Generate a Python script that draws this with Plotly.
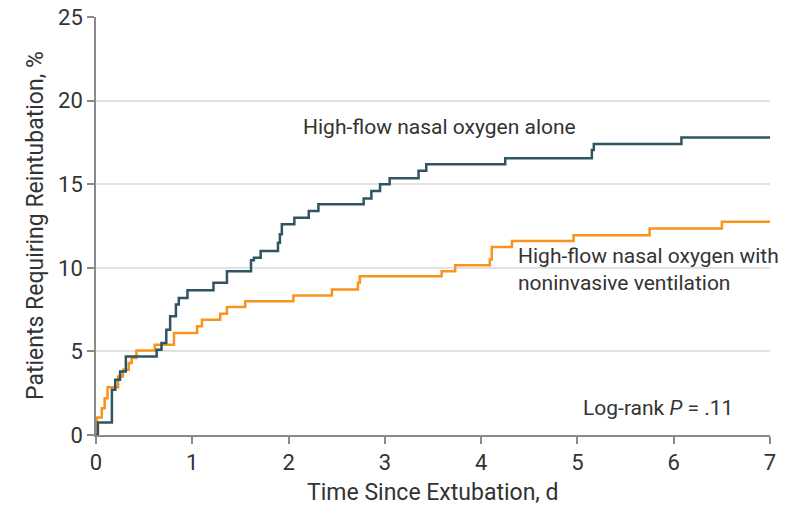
import plotly.graph_objects as go

# Kaplan-Meier style cumulative incidence (step data)
hfno_t = [0, 0.02, 0.165, 0.20, 0.25, 0.31, 0.63, 0.68, 0.73, 0.77, 0.83, 0.86, 0.95,
          1.22, 1.36, 1.61, 1.64, 1.71, 1.89, 1.91, 1.93, 2.06, 2.21, 2.31, 2.78, 2.86,
          2.95, 3.05, 3.35, 3.43, 4.25, 5.15, 5.17, 6.08, 7.0]
hfno_y = [0, 0.75, 2.7, 3.3, 3.8, 4.7, 5.1, 5.5, 6.3, 7.1, 7.8, 8.2, 8.65,
          9.1, 9.8, 10.45, 10.6, 11.0, 11.5, 12.0, 12.6, 13.0, 13.4, 13.8, 14.15, 14.6,
          15.0, 15.35, 15.8, 16.2, 16.55, 17.05, 17.4, 17.8, 17.8]

niv_t = [0, 0.01, 0.06, 0.09, 0.12, 0.23, 0.28, 0.34, 0.37, 0.42, 0.61, 0.81, 1.05,
         1.10, 1.29, 1.36, 1.55, 2.05, 2.45, 2.72, 2.74, 3.59, 3.73, 4.09, 4.11, 4.32,
         4.96, 5.75, 6.5, 7.0]
niv_y = [0, 1.05, 1.6, 2.2, 2.85, 3.5, 3.9, 4.3, 4.6, 5.05, 5.4, 6.1, 6.5,
         6.9, 7.25, 7.65, 8.0, 8.35, 8.7, 9.1, 9.5, 9.8, 10.15, 10.5, 11.25, 11.6,
         11.95, 12.35, 12.75, 12.75]

x_ticks = [0, 1, 2, 3, 4, 5, 6, 7]
y_ticks = [0, 5, 10, 15, 20, 25]

TEAL = "#2f5563"
ORANGE = "#f7931e"
FONT = "Roboto, sans-serif"
TXT = "#333333"

fig = go.Figure()
fig.add_trace(go.Scatter(x=niv_t, y=niv_y, mode="lines", line_shape="hv",
                         line=dict(color=ORANGE, width=2.5), showlegend=False,
                         name="High-flow nasal oxygen with noninvasive ventilation"))
fig.add_trace(go.Scatter(x=hfno_t, y=hfno_y, mode="lines", line_shape="hv",
                         line=dict(color=TEAL, width=2.5), showlegend=False,
                         name="High-flow nasal oxygen alone"))

fig.add_annotation(x=2.13, y=18.4, text="High-flow nasal oxygen alone", showarrow=False,
                   xanchor="left", yanchor="middle", font=dict(size=21, color=TXT, family=FONT))
fig.add_annotation(x=4.36, y=9.9, text="High-flow nasal oxygen with<br>noninvasive ventilation",
                   showarrow=False, xanchor="left", yanchor="middle", align="left",
                   font=dict(size=21, color=TXT, family=FONT))
fig.add_annotation(x=5.04, y=1.6, text="Log-rank <i>P</i> = .11", showarrow=False,
                   xanchor="left", yanchor="middle", font=dict(size=21, color=TXT, family=FONT))

# axis titles placed in paper coordinates
fig.add_annotation(xref="paper", yref="paper", x=0.5, y=-0.137, yanchor="middle",
                   text="Time Since Extubation, d", showarrow=False,
                   font=dict(size=23, color=TXT, family=FONT))
fig.add_annotation(xref="paper", yref="paper", x=-0.0905, y=0.5, xanchor="center",
                   yanchor="middle", textangle=-90,
                   text="Patients Requiring Reintubation, %", showarrow=False,
                   font=dict(size=23, color=TXT, family=FONT))

fig.update_layout(
    width=792, height=510,
    margin=dict(l=96, r=22, t=17, b=75),
    paper_bgcolor="white", plot_bgcolor="white",
    font=dict(family=FONT, size=21, color=TXT),
    xaxis=dict(range=[0, 7], tickvals=x_ticks, ticktext=[str(v) for v in x_ticks],
               showgrid=False, zeroline=False, showline=True, linecolor="#8a8a8a", linewidth=1.5,
               ticks="outside", ticklen=7, tickcolor="#8a8a8a", tickwidth=1.5,
               automargin=False, tickfont=dict(size=22)),
    yaxis=dict(range=[0, 25], tickvals=y_ticks, ticktext=[str(v) for v in y_ticks],
               showgrid=True, gridcolor="#e2e2e2", gridwidth=1.5, zeroline=False,
               showline=True, linecolor="#8a8a8a", linewidth=1.5,
               ticks="outside", ticklen=7, tickcolor="#8a8a8a", tickwidth=1.5,
               automargin=False, tickfont=dict(size=22)),
)
fig.write_html("out.html")
